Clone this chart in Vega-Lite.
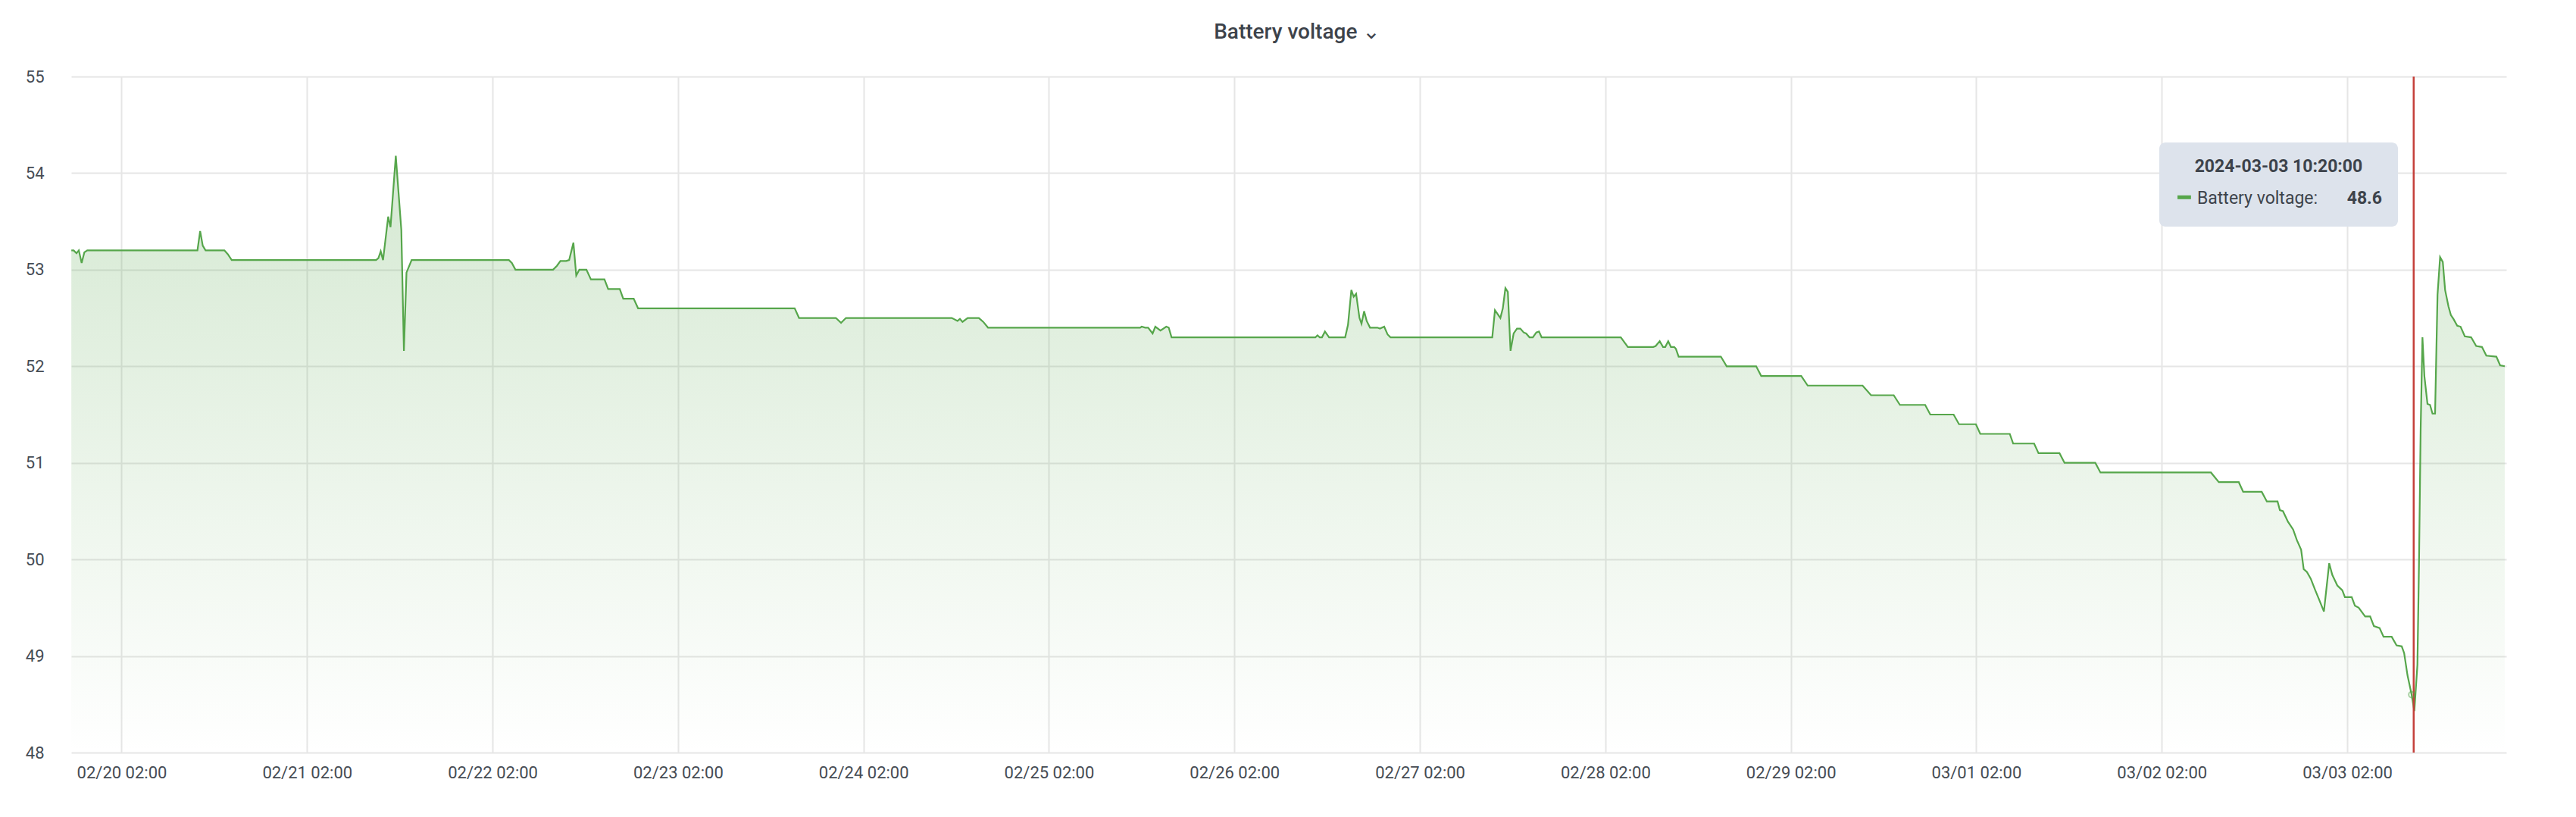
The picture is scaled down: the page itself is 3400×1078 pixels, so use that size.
{
  "$schema": "https://vega.github.io/schema/vega-lite/v6.json",
  "width": 3214,
  "height": 892,
  "autosize": {"type": "none"},
  "padding": {"left": 94, "top": 101, "right": 92, "bottom": 85},
  "background": "white",
  "title": {"text": "Battery voltage ⌄", "anchor": "middle", "frame": "group", "font": "Roboto, DejaVu Sans", "fontSize": 28, "fontWeight": 500, "color": "#3d434b", "offset": 11, "baseline": "alphabetic", "dx": 11},
  "config": {
    "view": {"stroke": null},
    "axis": {"labelFont": "Roboto", "labelFontSize": 22, "labelColor": "#464c54", "ticks": false, "domain": false, "grid": true, "gridColor": "#e6e6e6", "gridWidth": 2, "title": null}
  },
  "datasets": {
    "series": [
      {"t": "2024-02-19T19:30", "v": 53.2},
      {"t": "2024-02-19T19:48", "v": 53.2},
      {"t": "2024-02-19T20:10", "v": 53.17},
      {"t": "2024-02-19T20:28", "v": 53.2},
      {"t": "2024-02-19T20:50", "v": 53.07},
      {"t": "2024-02-19T21:11", "v": 53.18},
      {"t": "2024-02-19T21:34", "v": 53.2},
      {"t": "2024-02-20T11:49", "v": 53.2},
      {"t": "2024-02-20T12:10", "v": 53.4},
      {"t": "2024-02-20T12:30", "v": 53.25},
      {"t": "2024-02-20T12:52", "v": 53.2},
      {"t": "2024-02-20T15:18", "v": 53.2},
      {"t": "2024-02-20T15:45", "v": 53.16},
      {"t": "2024-02-20T16:15", "v": 53.1},
      {"t": "2024-02-21T10:56", "v": 53.1},
      {"t": "2024-02-21T11:14", "v": 53.12},
      {"t": "2024-02-21T11:32", "v": 53.19},
      {"t": "2024-02-21T11:50", "v": 53.1},
      {"t": "2024-02-21T12:30", "v": 53.55},
      {"t": "2024-02-21T12:48", "v": 53.44},
      {"t": "2024-02-21T13:29", "v": 54.18},
      {"t": "2024-02-21T14:12", "v": 53.41},
      {"t": "2024-02-21T14:32", "v": 52.16},
      {"t": "2024-02-21T14:52", "v": 52.97},
      {"t": "2024-02-21T15:32", "v": 53.1},
      {"t": "2024-02-22T04:07", "v": 53.1},
      {"t": "2024-02-22T04:30", "v": 53.07},
      {"t": "2024-02-22T04:58", "v": 53.0},
      {"t": "2024-02-22T09:50", "v": 53.0},
      {"t": "2024-02-22T10:20", "v": 53.04},
      {"t": "2024-02-22T10:47", "v": 53.09},
      {"t": "2024-02-22T11:32", "v": 53.09},
      {"t": "2024-02-22T11:55", "v": 53.1},
      {"t": "2024-02-22T12:28", "v": 53.28},
      {"t": "2024-02-22T12:50", "v": 52.94},
      {"t": "2024-02-22T13:14", "v": 53.0},
      {"t": "2024-02-22T14:09", "v": 53.0},
      {"t": "2024-02-22T14:44", "v": 52.9},
      {"t": "2024-02-22T16:29", "v": 52.9},
      {"t": "2024-02-22T16:58", "v": 52.8},
      {"t": "2024-02-22T18:28", "v": 52.8},
      {"t": "2024-02-22T18:55", "v": 52.7},
      {"t": "2024-02-22T20:16", "v": 52.7},
      {"t": "2024-02-22T20:50", "v": 52.6},
      {"t": "2024-02-23T17:06", "v": 52.6},
      {"t": "2024-02-23T17:40", "v": 52.5},
      {"t": "2024-02-23T22:26", "v": 52.5},
      {"t": "2024-02-23T23:06", "v": 52.45},
      {"t": "2024-02-23T23:44", "v": 52.5},
      {"t": "2024-02-24T13:26", "v": 52.5},
      {"t": "2024-02-24T14:10", "v": 52.47},
      {"t": "2024-02-24T14:29", "v": 52.49},
      {"t": "2024-02-24T14:49", "v": 52.46},
      {"t": "2024-02-24T15:29", "v": 52.5},
      {"t": "2024-02-24T16:56", "v": 52.5},
      {"t": "2024-02-24T17:30", "v": 52.46},
      {"t": "2024-02-24T18:07", "v": 52.4},
      {"t": "2024-02-25T13:48", "v": 52.4},
      {"t": "2024-02-25T14:00", "v": 52.41},
      {"t": "2024-02-25T14:28", "v": 52.4},
      {"t": "2024-02-25T14:50", "v": 52.4},
      {"t": "2024-02-25T15:25", "v": 52.34},
      {"t": "2024-02-25T15:46", "v": 52.41},
      {"t": "2024-02-25T16:26", "v": 52.37},
      {"t": "2024-02-25T17:11", "v": 52.41},
      {"t": "2024-02-25T17:30", "v": 52.4},
      {"t": "2024-02-25T17:52", "v": 52.3},
      {"t": "2024-02-26T12:29", "v": 52.3},
      {"t": "2024-02-26T12:45", "v": 52.32},
      {"t": "2024-02-26T13:02", "v": 52.3},
      {"t": "2024-02-26T13:20", "v": 52.3},
      {"t": "2024-02-26T13:43", "v": 52.36},
      {"t": "2024-02-26T14:15", "v": 52.3},
      {"t": "2024-02-26T16:20", "v": 52.3},
      {"t": "2024-02-26T16:42", "v": 52.43},
      {"t": "2024-02-26T17:08", "v": 52.79},
      {"t": "2024-02-26T17:26", "v": 52.72},
      {"t": "2024-02-26T17:45", "v": 52.75},
      {"t": "2024-02-26T18:11", "v": 52.5},
      {"t": "2024-02-26T18:27", "v": 52.44},
      {"t": "2024-02-26T18:47", "v": 52.57},
      {"t": "2024-02-26T19:07", "v": 52.47},
      {"t": "2024-02-26T19:33", "v": 52.4},
      {"t": "2024-02-26T20:30", "v": 52.4},
      {"t": "2024-02-26T20:50", "v": 52.39},
      {"t": "2024-02-26T21:23", "v": 52.41},
      {"t": "2024-02-26T21:49", "v": 52.33},
      {"t": "2024-02-26T22:12", "v": 52.3},
      {"t": "2024-02-27T11:22", "v": 52.3},
      {"t": "2024-02-27T11:43", "v": 52.58},
      {"t": "2024-02-27T12:25", "v": 52.5},
      {"t": "2024-02-27T12:44", "v": 52.6},
      {"t": "2024-02-27T13:04", "v": 52.81},
      {"t": "2024-02-27T13:23", "v": 52.77},
      {"t": "2024-02-27T13:44", "v": 52.16},
      {"t": "2024-02-27T14:08", "v": 52.34},
      {"t": "2024-02-27T14:34", "v": 52.39},
      {"t": "2024-02-27T15:00", "v": 52.39},
      {"t": "2024-02-27T15:26", "v": 52.35},
      {"t": "2024-02-27T15:45", "v": 52.34},
      {"t": "2024-02-27T16:11", "v": 52.3},
      {"t": "2024-02-27T16:37", "v": 52.3},
      {"t": "2024-02-27T17:04", "v": 52.35},
      {"t": "2024-02-27T17:25", "v": 52.36},
      {"t": "2024-02-27T17:45", "v": 52.3},
      {"t": "2024-02-28T04:00", "v": 52.3},
      {"t": "2024-02-28T04:55", "v": 52.2},
      {"t": "2024-02-28T08:12", "v": 52.2},
      {"t": "2024-02-28T08:31", "v": 52.21},
      {"t": "2024-02-28T09:02", "v": 52.26},
      {"t": "2024-02-28T09:28", "v": 52.2},
      {"t": "2024-02-28T09:45", "v": 52.2},
      {"t": "2024-02-28T10:08", "v": 52.26},
      {"t": "2024-02-28T10:29", "v": 52.2},
      {"t": "2024-02-28T10:55", "v": 52.2},
      {"t": "2024-02-28T11:08", "v": 52.18},
      {"t": "2024-02-28T11:29", "v": 52.1},
      {"t": "2024-02-28T16:57", "v": 52.1},
      {"t": "2024-02-28T17:42", "v": 52.0},
      {"t": "2024-02-28T21:31", "v": 52.0},
      {"t": "2024-02-28T22:10", "v": 51.9},
      {"t": "2024-02-29T03:21", "v": 51.9},
      {"t": "2024-02-29T04:11", "v": 51.8},
      {"t": "2024-02-29T11:17", "v": 51.8},
      {"t": "2024-02-29T12:23", "v": 51.7},
      {"t": "2024-02-29T15:19", "v": 51.7},
      {"t": "2024-02-29T16:07", "v": 51.6},
      {"t": "2024-02-29T19:23", "v": 51.6},
      {"t": "2024-02-29T20:03", "v": 51.5},
      {"t": "2024-02-29T23:04", "v": 51.5},
      {"t": "2024-02-29T23:46", "v": 51.4},
      {"t": "2024-03-01T01:57", "v": 51.4},
      {"t": "2024-03-01T02:31", "v": 51.3},
      {"t": "2024-03-01T06:20", "v": 51.3},
      {"t": "2024-03-01T06:46", "v": 51.2},
      {"t": "2024-03-01T09:29", "v": 51.2},
      {"t": "2024-03-01T10:03", "v": 51.1},
      {"t": "2024-03-01T12:46", "v": 51.1},
      {"t": "2024-03-01T13:25", "v": 51.0},
      {"t": "2024-03-01T17:24", "v": 51.0},
      {"t": "2024-03-01T18:04", "v": 50.9},
      {"t": "2024-03-02T08:22", "v": 50.9},
      {"t": "2024-03-02T09:23", "v": 50.8},
      {"t": "2024-03-02T11:58", "v": 50.8},
      {"t": "2024-03-02T12:32", "v": 50.7},
      {"t": "2024-03-02T14:56", "v": 50.7},
      {"t": "2024-03-02T15:36", "v": 50.6},
      {"t": "2024-03-02T16:59", "v": 50.6},
      {"t": "2024-03-02T17:17", "v": 50.51},
      {"t": "2024-03-02T17:41", "v": 50.5},
      {"t": "2024-03-02T18:20", "v": 50.39},
      {"t": "2024-03-02T19:00", "v": 50.31},
      {"t": "2024-03-02T19:29", "v": 50.2},
      {"t": "2024-03-02T20:02", "v": 50.1},
      {"t": "2024-03-02T20:22", "v": 49.9},
      {"t": "2024-03-02T20:47", "v": 49.87},
      {"t": "2024-03-02T21:17", "v": 49.8},
      {"t": "2024-03-02T21:52", "v": 49.68},
      {"t": "2024-03-02T22:20", "v": 49.59},
      {"t": "2024-03-02T22:59", "v": 49.46},
      {"t": "2024-03-02T23:40", "v": 49.96},
      {"t": "2024-03-03T00:04", "v": 49.84},
      {"t": "2024-03-03T00:43", "v": 49.73},
      {"t": "2024-03-03T01:22", "v": 49.68},
      {"t": "2024-03-03T01:42", "v": 49.61},
      {"t": "2024-03-03T02:35", "v": 49.61},
      {"t": "2024-03-03T03:00", "v": 49.52},
      {"t": "2024-03-03T03:29", "v": 49.5},
      {"t": "2024-03-03T04:19", "v": 49.41},
      {"t": "2024-03-03T04:58", "v": 49.41},
      {"t": "2024-03-03T05:27", "v": 49.31},
      {"t": "2024-03-03T06:11", "v": 49.29},
      {"t": "2024-03-03T06:42", "v": 49.2},
      {"t": "2024-03-03T07:45", "v": 49.2},
      {"t": "2024-03-03T08:23", "v": 49.11},
      {"t": "2024-03-03T09:03", "v": 49.1},
      {"t": "2024-03-03T09:22", "v": 49.03},
      {"t": "2024-03-03T09:48", "v": 48.8},
      {"t": "2024-03-03T10:20", "v": 48.6},
      {"t": "2024-03-03T10:41", "v": 48.43},
      {"t": "2024-03-03T11:05", "v": 48.91},
      {"t": "2024-03-03T11:17", "v": 49.94},
      {"t": "2024-03-03T11:30", "v": 51.34},
      {"t": "2024-03-03T11:44", "v": 52.3},
      {"t": "2024-03-03T11:59", "v": 51.9},
      {"t": "2024-03-03T12:23", "v": 51.61},
      {"t": "2024-03-03T12:43", "v": 51.6},
      {"t": "2024-03-03T13:02", "v": 51.51},
      {"t": "2024-03-03T13:22", "v": 51.51},
      {"t": "2024-03-03T13:41", "v": 52.74},
      {"t": "2024-03-03T14:01", "v": 53.13},
      {"t": "2024-03-03T14:22", "v": 53.08},
      {"t": "2024-03-03T14:40", "v": 52.79},
      {"t": "2024-03-03T15:06", "v": 52.62},
      {"t": "2024-03-03T15:25", "v": 52.53},
      {"t": "2024-03-03T15:45", "v": 52.49},
      {"t": "2024-03-03T16:14", "v": 52.42},
      {"t": "2024-03-03T16:40", "v": 52.41},
      {"t": "2024-03-03T17:13", "v": 52.31},
      {"t": "2024-03-03T18:02", "v": 52.3},
      {"t": "2024-03-03T18:41", "v": 52.21},
      {"t": "2024-03-03T19:26", "v": 52.2},
      {"t": "2024-03-03T20:00", "v": 52.11},
      {"t": "2024-03-03T21:18", "v": 52.1},
      {"t": "2024-03-03T21:47", "v": 52.01},
      {"t": "2024-03-03T22:23", "v": 52.0}
    ],
    "cursor": [{"t": "2024-03-03T10:36"}],
    "hover": [{"t": "2024-03-03T10:20", "v": 48.6}],
    "tipbox": [{"t": "2024-03-02T01:41", "t2": "2024-03-03T08:34", "v": 54.318, "v2": 53.447}],
    "tiptitle": [{"t": "2024-03-02T17:07", "v": 54.067, "label": "2024-03-03 10:20:00"}],
    "tipkey": [{"t": "2024-03-02T04:02", "t2": "2024-03-02T05:47", "v": 53.75}],
    "tipname": [{"t": "2024-03-02T06:35", "v": 53.737, "label": "Battery voltage:"}],
    "tipvalue": [{"t": "2024-03-03T06:30", "v": 53.737, "label": "48.6"}]
  },
  "layer": [
    {
      "data": {"name": "series"},
      "mark": {"type": "area", "interpolate": "linear", "clip": true, "color": {"gradient": "linear", "x1": 0, "y1": 0, "x2": 0, "y2": 1, "stops": [{"offset": 0, "color": "rgba(86,166,75,0.25)"}, {"offset": 1, "color": "rgba(86,166,75,0)"}]}},
      "encoding": {
        "x": {"field": "t", "type": "temporal",
          "scale": {"domain": [{"year": 2024, "month": 2, "date": 19, "hours": 19, "minutes": 29}, {"year": 2024, "month": 3, "date": 3, "hours": 22, "minutes": 35}]},
          "axis": {"format": "%m/%d %H:%M", "labelPadding": 16, "labelAngle": 0, "labelFlush": false, "labelOverlap": false,
            "values": [
              {"year": 2024, "month": 2, "date": 20, "hours": 2},
              {"year": 2024, "month": 2, "date": 21, "hours": 2},
              {"year": 2024, "month": 2, "date": 22, "hours": 2},
              {"year": 2024, "month": 2, "date": 23, "hours": 2},
              {"year": 2024, "month": 2, "date": 24, "hours": 2},
              {"year": 2024, "month": 2, "date": 25, "hours": 2},
              {"year": 2024, "month": 2, "date": 26, "hours": 2},
              {"year": 2024, "month": 2, "date": 27, "hours": 2},
              {"year": 2024, "month": 2, "date": 28, "hours": 2},
              {"year": 2024, "month": 2, "date": 29, "hours": 2},
              {"year": 2024, "month": 3, "date": 1, "hours": 2},
              {"year": 2024, "month": 3, "date": 2, "hours": 2},
              {"year": 2024, "month": 3, "date": 3, "hours": 2}
            ]}},
        "y": {"field": "v", "type": "quantitative", "scale": {"domain": [48, 55], "nice": false, "zero": false},
          "axis": {"values": [48, 49, 50, 51, 52, 53, 54, 55], "format": "d", "labelPadding": 36, "labelBaseline": "middle"}},
        "y2": {"datum": 48}
      }
    },
    {
      "data": {"name": "series"},
      "mark": {"type": "line", "interpolate": "linear", "color": "#56a64b", "strokeWidth": 2.2},
      "encoding": {
        "x": {"field": "t", "type": "temporal"},
        "y": {"field": "v", "type": "quantitative"}
      }
    },
    {
      "data": {"name": "cursor"},
      "mark": {"type": "rule", "color": "#c4403b", "strokeWidth": 2.5},
      "encoding": {
        "x": {"field": "t", "type": "temporal"},
        "y": {"datum": 55},
        "y2": {"datum": 48}
      }
    },
    {
      "data": {"name": "hover"},
      "mark": {"type": "point", "filled": false, "color": "#56a64b", "opacity": 0.5, "size": 60, "strokeWidth": 2},
      "encoding": {
        "x": {"field": "t", "type": "temporal"},
        "y": {"field": "v", "type": "quantitative"}
      }
    },
    {
      "data": {"name": "tipbox"},
      "mark": {"type": "rect", "color": "#dde3ec", "cornerRadius": 8},
      "encoding": {
        "x": {"field": "t", "type": "temporal"},
        "x2": {"field": "t2"},
        "y": {"field": "v", "type": "quantitative"},
        "y2": {"field": "v2"}
      }
    },
    {
      "data": {"name": "tiptitle"},
      "mark": {"type": "text", "font": "Roboto", "fontSize": 23, "fontWeight": "bold", "color": "#3d434b", "align": "center", "baseline": "middle"},
      "encoding": {
        "x": {"field": "t", "type": "temporal"},
        "y": {"field": "v", "type": "quantitative"},
        "text": {"field": "label"}
      }
    },
    {
      "data": {"name": "tipkey"},
      "mark": {"type": "rule", "color": "#56a64b", "strokeWidth": 5},
      "encoding": {
        "x": {"field": "t", "type": "temporal"},
        "x2": {"field": "t2"},
        "y": {"field": "v", "type": "quantitative"}
      }
    },
    {
      "data": {"name": "tipname"},
      "mark": {"type": "text", "font": "Roboto", "fontSize": 23, "color": "#3d434b", "align": "left", "baseline": "middle"},
      "encoding": {
        "x": {"field": "t", "type": "temporal"},
        "y": {"field": "v", "type": "quantitative"},
        "text": {"field": "label"}
      }
    },
    {
      "data": {"name": "tipvalue"},
      "mark": {"type": "text", "font": "Roboto", "fontSize": 23, "fontWeight": "bold", "color": "#3d434b", "align": "right", "baseline": "middle"},
      "encoding": {
        "x": {"field": "t", "type": "temporal"},
        "y": {"field": "v", "type": "quantitative"},
        "text": {"field": "label"}
      }
    }
  ]
}
